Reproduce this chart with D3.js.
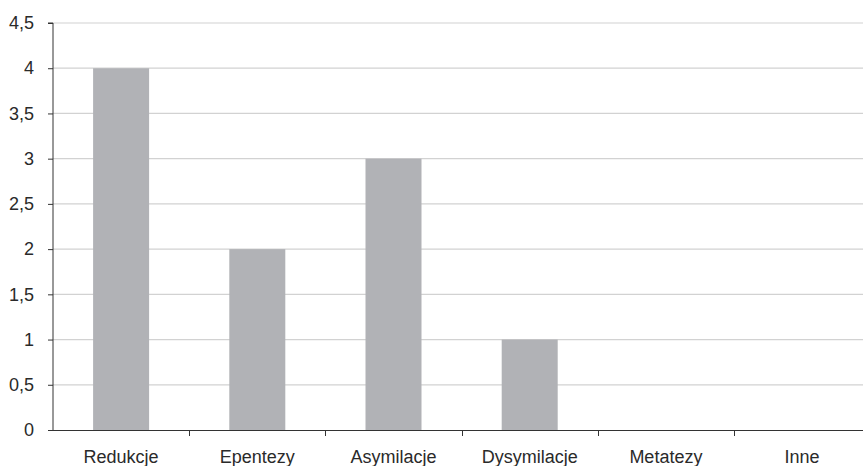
<!DOCTYPE html>
<html>
<head>
<meta charset="utf-8">
<script src="https://cdn.jsdelivr.net/npm/d3@7"></script>
<style>
  html, body { margin: 0; padding: 0; background: #fff; }
  svg { display: block; }
  text { font-family: "Liberation Sans", Arial, sans-serif; }
</style>
</head>
<body>
<svg id="chart" width="863" height="466"></svg>
<script>
// Number of phonetic changes by type
const categories = ["Redukcje", "Epentezy", "Asymilacje", "Dysymilacje", "Metatezy", "Inne"];
const values = [4, 2, 3, 1, 0, 0];
const yTicks = [0, 0.5, 1, 1.5, 2, 2.5, 3, 3.5, 4, 4.5];

const svg = d3.select("#chart");
const plotLeft = 53, plotBottom = 430, plotTop = 23;
const bandStep = 136.2;

const x = d3.scaleBand()
  .domain(categories)
  .range([plotLeft, plotLeft + bandStep * categories.length])
  .padding(0);

const y = d3.scaleLinear().domain([0, 4.5]).range([plotBottom, plotTop]);

const fmt = v => String(v).replace(".", ",");

// horizontal gridlines
svg.append("g")
  .selectAll("line")
  .data(yTicks.filter(t => t > 0))
  .join("line")
  .attr("x1", plotLeft).attr("x2", 863)
  .attr("y1", d => y(d)).attr("y2", d => y(d))
  .attr("stroke", "#d2d2d2")
  .attr("stroke-width", 1.2);

// bars
const barW = 56;
svg.append("g")
  .selectAll("rect")
  .data(categories.map((c, i) => ({ c, v: values[i] })))
  .join("rect")
  .attr("x", d => x(d.c) + x.bandwidth() / 2 - barW / 2)
  .attr("width", barW)
  .attr("y", d => y(d.v))
  .attr("height", d => y(0) - y(d.v))
  .attr("fill", "#b1b2b6");

// y axis
const yAxis = d3.axisLeft(y)
  .tickValues(yTicks)
  .tickFormat(fmt)
  .tickSize(5)
  .tickPadding(14);
const gy = svg.append("g")
  .attr("transform", `translate(${plotLeft},0)`)
  .call(yAxis);
gy.select(".domain").attr("stroke", "#333").attr("d", `M-5,${plotTop}H0V${plotBottom + 1}`);
gy.selectAll(".tick line").attr("stroke", "#333");
gy.selectAll(".tick text")
  .attr("font-size", 18)
  .attr("fill", "#2a2a2a")
  .attr("font-family", "'Liberation Sans', Arial, sans-serif");

// x axis line
svg.append("line")
  .attr("x1", plotLeft).attr("x2", 863)
  .attr("y1", plotBottom + 0.5).attr("y2", plotBottom + 0.5)
  .attr("stroke", "#333");

// x ticks at category boundaries
svg.append("g")
  .selectAll("line")
  .data(categories.slice(1))
  .join("line")
  .attr("x1", d => Math.round(x(d)) + 0.5)
  .attr("x2", d => Math.round(x(d)) + 0.5)
  .attr("y1", plotBottom).attr("y2", plotBottom + 6)
  .attr("stroke", "#333");

// category labels
svg.append("g")
  .selectAll("text")
  .data(categories)
  .join("text")
  .attr("x", d => x(d) + x.bandwidth() / 2)
  .attr("y", 463)
  .attr("text-anchor", "middle")
  .attr("font-size", 18)
  .attr("fill", "#2a2a2a")
  .attr("textLength", null)
  .text(d => d);
</script>
</body>
</html>
